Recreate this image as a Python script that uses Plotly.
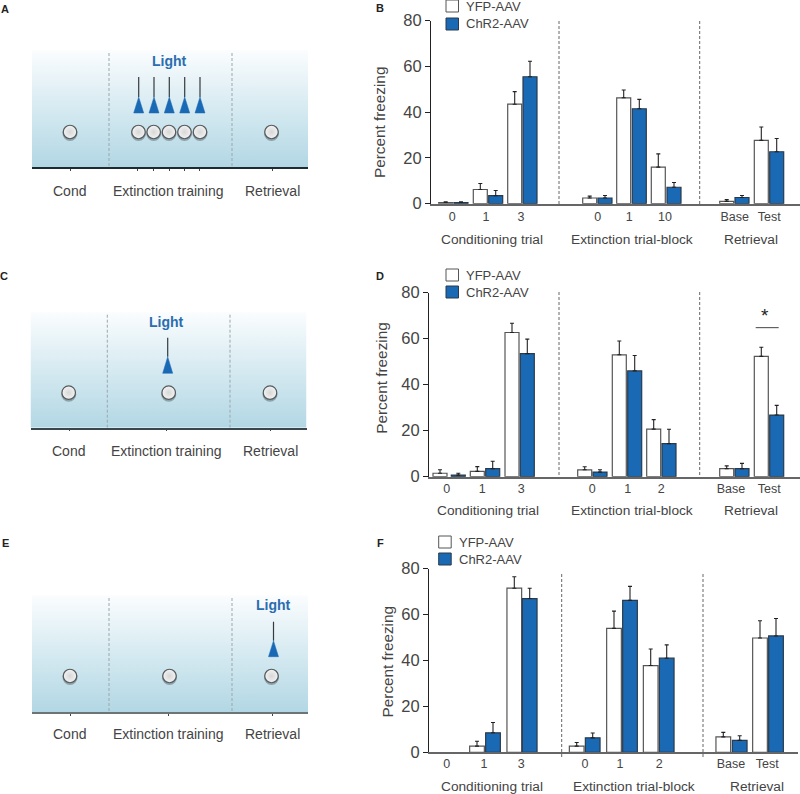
import plotly.graph_objects as go

W, H = 800, 794
BLUE = "#1a69b5"
TXT = "#444444"
FONT = "Liberation Sans, Arial, sans-serif"

# ---------- data: percent freezing ----------
tick_b = ["0", "1", "3", "0", "1", "10", "Base", "Test"]
tick_d = ["0", "1", "3", "0", "1", "2", "Base", "Test"]
tick_f = ["0", "1", "3", "0", "1", "2", "Base", "Test"]
group_labels = ["Conditioning trial", "Extinction trial-block", "Retrieval"]
y_ticks = [0, 20, 40, 60, 80]

yfp_b = [0.5, 6.2, 43.5, 2.5, 46.3, 16.0, 1.0, 27.7]
yfp_b_err = [0.3, 2.6, 5.5, 0.8, 3.4, 5.8, 0.8, 5.8]
chr_b = [0.5, 3.5, 55.5, 2.5, 41.5, 7.2, 2.7, 22.7]
chr_b_err = [0.3, 2.3, 6.8, 1.1, 4.1, 2.1, 0.9, 5.8]

yfp_d = [1.5, 2.3, 62.7, 3.0, 53.0, 20.7, 3.5, 52.3]
yfp_d_err = [1.5, 2.1, 4.0, 1.3, 6.0, 4.1, 1.2, 4.0]
chr_d = [0.7, 3.5, 53.5, 2.0, 46.0, 14.4, 3.5, 26.8]
chr_d_err = [0.8, 3.2, 6.3, 1.0, 6.7, 6.2, 2.3, 4.2]

yfp_f = [None, 2.7, 71.5, 2.7, 54.0, 37.8, 6.7, 49.8]
yfp_f_err = [None, 2.1, 5.0, 1.6, 7.5, 7.2, 2.0, 7.5]
chr_f = [None, 8.5, 67.0, 6.3, 66.2, 41.0, 5.2, 50.7]
chr_f_err = [None, 4.5, 4.5, 2.1, 6.1, 5.8, 2.0, 7.6]

# ---------- layout positions, in page pixels ----------
xp_yfp_b = [445.7, 480.3, 514.7, 589.7, 623.7, 658.3, 726.7, 761.3]
xp_chr_b = [461.0, 495.7, 530.0, 605.0, 639.3, 674.0, 742.0, 776.7]
xp_tick_b = [452.3, 486.0, 521.0, 597.7, 629.3, 665.0, 734.7, 769.3]

xp_yfp_d = [440.0, 477.3, 512.0, 584.7, 619.3, 653.7, 726.7, 761.3]
xp_chr_d = [458.3, 492.7, 527.3, 600.0, 634.7, 669.0, 742.0, 776.7]
xp_tick_d = [446.7, 482.3, 521.3, 592.3, 627.7, 661.3, 731.0, 769.3]

xp_yfp_f = [440.0, 477.0, 514.3, 576.7, 614.0, 650.7, 723.3, 760.0]
xp_chr_f = [458.3, 493.0, 529.7, 592.7, 630.0, 666.7, 739.7, 776.0]
xp_tick_f = [446.7, 484.0, 521.3, 585.0, 620.0, 659.3, 731.0, 767.3]

px = lambda x: x / W
py = lambda y: 1 - y / H

fig = go.Figure()
shapes, annos = [], []


def text(x, y, s, size, color=TXT, bold=False, angle=0, anchor="center"):
    annos.append(dict(xref="paper", yref="paper", x=px(x), y=py(y), text=f"<b>{s}</b>" if bold else s,
                      showarrow=False, xanchor=anchor, yanchor="middle", textangle=angle,
                      font=dict(family=FONT, size=size, color=color)))


def bar_panel(n, x0, x1, ytop, ybase, yfp, yfp_err, chr_, chr_err, xy, xc, xt, ticks, dash_x, dash_top, dash_bot,
              ytitle, cats, cat_y, leg_x, leg_y, tick_y, bar_w):
    xa, ya = f"xaxis{n}", f"yaxis{n}"
    xr, yr = f"x{n}", f"y{n}"
    fig.update_layout({
        xa: dict(domain=[px(x0), px(x1)], range=[x0, x1], anchor=yr, showgrid=False, zeroline=False, automargin=False,
                 showline=True, linecolor="#666666", linewidth=2, ticks="", tickvals=xt, ticktext=ticks,
                 ticklabelstandoff=int(tick_y - ybase - 14),
                 tickfont=dict(family=FONT, size=12.5, color=TXT)),
        ya: dict(domain=[py(ybase), py(ytop)], range=[0, 80], anchor=xr, showgrid=False, zeroline=False,
                 automargin=False,
                 showline=True, linecolor="#222222", linewidth=1, ticks="outside", ticklen=5, tickcolor="#222222",
                 tickwidth=1, tickvals=y_ticks, tickfont=dict(family=FONT, size=16.5, color=TXT)),
    })
    for name, xs, v, e, fill, edge in [("YFP-AAV", xy, yfp, yfp_err, "white", "#555555"),
                                       ("ChR2-AAV", xc, chr_, chr_err, BLUE, "#2b3a4a")]:
        fig.add_trace(go.Bar(x=xs, y=v, width=bar_w, name=name, showlegend=False, xaxis=xr, yaxis=yr,
                             marker=dict(color=fill, line=dict(color=edge, width=1.2)),
                             error_y=dict(type="data", symmetric=False, array=e, arrayminus=[0] * len(e),
                                          color="#222222", thickness=1.1, width=2)))
    for dx in dash_x:
        shapes.append(dict(type="line", xref="paper", yref="paper", x0=px(dx), x1=px(dx), y0=py(dash_top),
                           y1=py(dash_bot), line=dict(color="#666666", width=1, dash="3px,2px")))
    text(ytitle[0], ytitle[1], "Percent freezing", 15.3, angle=-90)
    for (cx, lab) in zip(cats, group_labels):
        text(cx, cat_y, lab, 13.7)
    # legend swatches
    for (top, s, fill, edge) in [(leg_y[0], "YFP-AAV", "white", "#555555"), (leg_y[1], "ChR2-AAV", BLUE, "#2b3a4a")]:
        shapes.append(dict(type="rect", xref="paper", yref="paper", x0=px(leg_x), x1=px(leg_x + 12.5),
                           y0=py(top - 6), y1=py(top + 6), fillcolor=fill, line=dict(color=edge, width=1)))
        text(leg_x + 18, top, s, 13, anchor="left")


bar_panel(1, 431, 800, 20.7, 203.7, yfp_b, yfp_b_err, chr_b, chr_b_err, xp_yfp_b, xp_chr_b, xp_tick_b, tick_b,
          [559, 699.7], 21, 204, (380, 123), [491.7, 631.7, 750.7], 239, 446, (6, 24), 217, 14)
bar_panel(2, 429, 800, 292.7, 476.7, yfp_d, yfp_d_err, chr_d, chr_d_err, xp_yfp_d, xp_chr_d, xp_tick_d, tick_d,
          [559, 699.7], 292, 476.7, (380.7, 378), [488, 631.7, 750.7], 510.7, 446, (275, 292), 489, 14)
bar_panel(3, 429, 798, 568.7, 752.3, yfp_f, yfp_f_err, chr_f, chr_f_err, xp_yfp_f, xp_chr_f, xp_tick_f, tick_f,
          [561.7, 703], 574, 757, (387.7, 661.7), [491.7, 634.3, 756.7], 786.7, 438.7, (542, 559), 765, 14.7)

# significance bar, panel D
sig_y = 64.8
shapes.append(dict(type="line", xref="x2", yref="y2", x0=755.7, x1=778.7, y0=sig_y, y1=sig_y,
                   line=dict(color="#444444", width=1)))
text(765, 315, "*", 19, color="#222222")


def schematic(n, x0, x1, top, bottom, dashes, circles, circle_y, ticks, lights, tri_top, tri_bot, needle_top,
              light_xy, labels_x, label_y, axis_color):
    xa, ya = f"xaxis{n}", f"yaxis{n}"
    xr, yr = f"x{n}", f"y{n}"
    fig.update_layout({
        xa: dict(domain=[px(x0), px(x1)], range=[x0, x1], anchor=yr, showgrid=False, zeroline=False, showline=True,
                 automargin=False,
                 linecolor=axis_color, linewidth=1.5, ticks="outside", ticklen=2, tickcolor="#444444", tickwidth=1,
                 tickvals=ticks, showticklabels=False),
        ya: dict(domain=[py(bottom), py(top)], range=[bottom, top], anchor=xr, visible=False, automargin=False),
    })
    fig.add_trace(go.Scatter(x=[x0, x1, x1, x0, x0], y=[top, top, bottom, bottom, top], mode="lines",
                             line=dict(width=0), fill="toself", xaxis=xr, yaxis=yr, showlegend=False,
                             hoverinfo="skip",
                             fillgradient=dict(type="vertical",
                                               colorscale=[[0, "#b2d7e4"], [0.5, "#d6eaf1"], [1, "#fbfdfe"]])))
    for dx in dashes:
        fig.add_trace(go.Scatter(x=[dx, dx], y=[top + 3, bottom], mode="lines", xaxis=xr, yaxis=yr, showlegend=False,
                                 line=dict(color="#9aa7ad", width=1, dash="3px,2px"), hoverinfo="skip"))
    # needles and cones
    nx, ny, tx, ty = [], [], [], []
    for lx in lights:
        nx += [lx, lx, None]
        ny += [needle_top, tri_top, None]
        tx += [lx - 5, lx, lx + 5, lx - 5, None]
        ty += [tri_bot, tri_top, tri_bot, tri_bot, None]
    fig.add_trace(go.Scatter(x=nx, y=ny, mode="lines", xaxis=xr, yaxis=yr, showlegend=False, hoverinfo="skip",
                             line=dict(color="#333a40", width=1.2)))
    fig.add_trace(go.Scatter(x=tx, y=ty, mode="lines", xaxis=xr, yaxis=yr, showlegend=False, hoverinfo="skip",
                             fill="toself", fillcolor=BLUE, line=dict(color=BLUE, width=0.5)))
    # circles with a soft shadow
    fig.add_trace(go.Scatter(x=circles, y=[circle_y + 1.5] * len(circles), mode="markers", xaxis=xr, yaxis=yr,
                             showlegend=False, hoverinfo="skip",
                             marker=dict(size=15, color="rgba(40,50,55,0.35)", line=dict(width=0))))
    fig.add_trace(go.Scatter(x=circles, y=[circle_y] * len(circles), mode="markers", xaxis=xr, yaxis=yr,
                             showlegend=False, hoverinfo="skip",
                             marker=dict(size=13.5, color="#f4f3f3", gradient=dict(type="radial", color="#d8d7d8"),
                                         line=dict(color="#555a5c", width=1.2))))
    text(light_xy[0], light_xy[1], "Light", 14, color="#2a6db0", bold=True)
    for lx, s in zip(labels_x, ["Cond", "Extinction training", "Retrieval"]):
        text(lx, label_y, s, 14)


schematic(4, 32, 308, 50, 167, [109, 232], [70, 138.5, 153.7, 169, 184.5, 200, 271.5], 132,
          [70.7, 137.7, 153.3, 169, 184.3, 199.3, 272.3], [138.7, 154, 169.3, 184.7, 200], 97, 113, 77,
          (169, 61), [69, 168, 272], 191, "#1d2b33")
schematic(5, 30.5, 306.5, 311.7, 427.7, [107.3, 230], [68.7, 168.7, 270], 392.7,
          [69.7, 166.7, 270.3], [167.7], 356.7, 373.3, 337.7, (166.7, 322.3), [68, 166.7, 270], 451, "#3a474e")
schematic(6, 32, 308, 595, 712, [109, 232], [70, 169.5, 271.5], 676,
          [70.7, 168.3, 272.3], [273.5], 640.7, 656.7, 621.7, (273, 605), [69, 168, 272], 734, "#6d7478")

# panel letters
for (lx, ly, s) in [(5, 9, "A"), (380, 8, "B"), (4, 276, "C"), (380, 276, "D"), (5, 543, "E"), (380, 543, "F")]:
    text(lx, ly, s, 11, color="#222222", bold=True)

fig.update_layout(width=W, height=H, margin=dict(l=0, r=0, t=0, b=0), paper_bgcolor="white", plot_bgcolor="rgba(0,0,0,0)",
                  barmode="overlay", showlegend=False, shapes=shapes, annotations=annos,
                  font=dict(family=FONT, color=TXT))
fig.write_html("out.html", config={"displayModeBar": False}, default_width=W, default_height=H,
               post_script="document.body.style.margin='0';document.documentElement.style.overflow='hidden';")
